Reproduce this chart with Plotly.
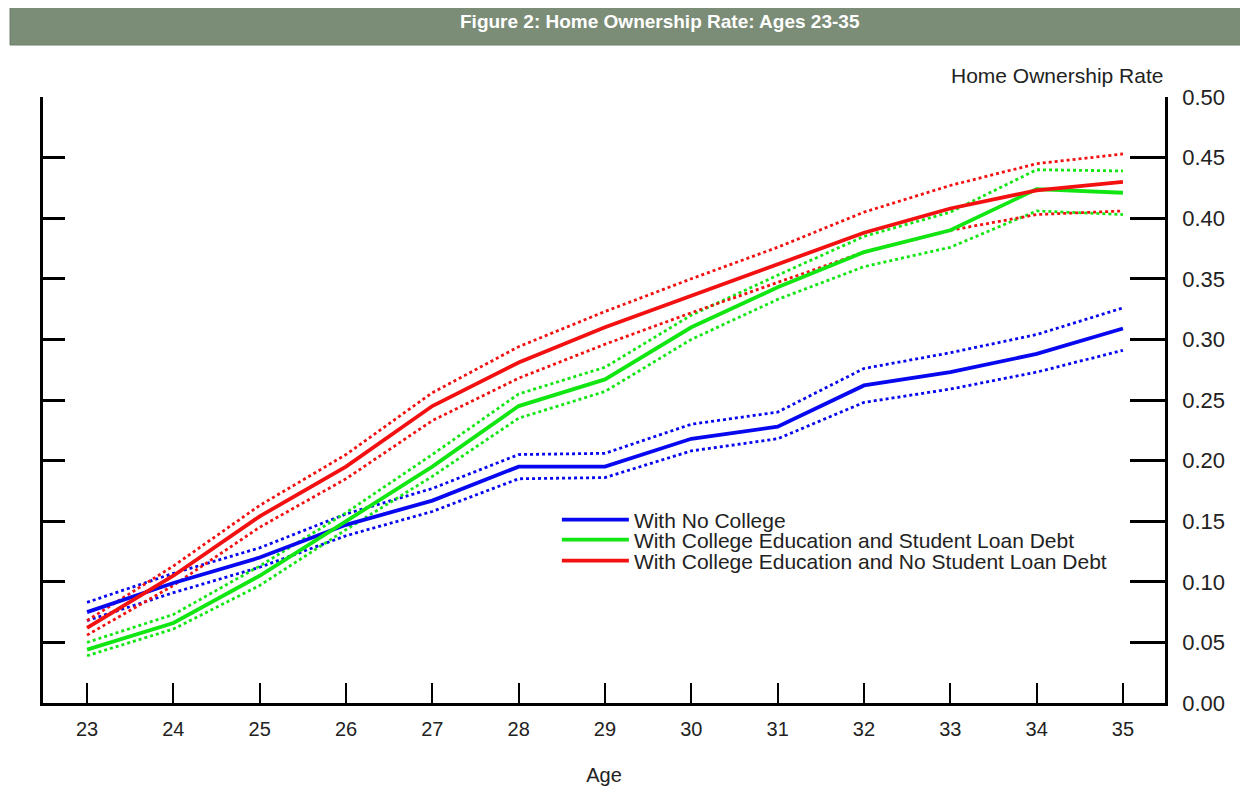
import plotly.graph_objects as go

ages = [23, 24, 25, 26, 27, 28, 29, 30, 31, 32, 33, 34, 35]

no_college = [0.075, 0.099, 0.120, 0.147, 0.167, 0.195, 0.195, 0.218, 0.228, 0.262, 0.273, 0.288, 0.309]
no_college_hi = [0.083, 0.107, 0.128, 0.156, 0.177, 0.205, 0.206, 0.230, 0.240, 0.276, 0.289, 0.304, 0.326]
no_college_lo = [0.068, 0.091, 0.112, 0.138, 0.158, 0.185, 0.186, 0.208, 0.218, 0.248, 0.259, 0.273, 0.291]

loan = [0.044, 0.066, 0.105, 0.150, 0.195, 0.245, 0.267, 0.310, 0.343, 0.372, 0.390, 0.424, 0.421]
loan_hi = [0.050, 0.073, 0.113, 0.157, 0.205, 0.255, 0.277, 0.320, 0.353, 0.385, 0.405, 0.440, 0.439]
loan_lo = [0.039, 0.061, 0.097, 0.143, 0.187, 0.235, 0.257, 0.300, 0.333, 0.360, 0.376, 0.406, 0.403]

no_loan = [0.062, 0.105, 0.154, 0.195, 0.245, 0.281, 0.310, 0.336, 0.362, 0.388, 0.408, 0.423, 0.430]
no_loan_hi = [0.068, 0.113, 0.163, 0.205, 0.256, 0.294, 0.323, 0.350, 0.376, 0.405, 0.427, 0.445, 0.453]
no_loan_lo = [0.056, 0.097, 0.145, 0.185, 0.233, 0.268, 0.296, 0.322, 0.347, 0.372, 0.390, 0.403, 0.406]

y_ticks = [0.00, 0.05, 0.10, 0.15, 0.20, 0.25, 0.30, 0.35, 0.40, 0.45, 0.50]
x_ticks = ages

title = "Figure 2: Home Ownership Rate: Ages 23-35"
names = ["With No College",
         "With College Education and Student Loan Debt",
         "With College Education and No Student Loan Debt"]
colors = ["#0808f0", "#12e612", "#f21010"]
legend_ids = ["legend", "legend2", "legend3"]

series = [
    (no_college, no_college_hi, no_college_lo),
    (loan, loan_hi, loan_lo),
    (no_loan, no_loan_hi, no_loan_lo),
]

fig = go.Figure()

# dotted bands first
for (mid, hi, lo), c in zip(series, colors):
    for band in (hi, lo):
        fig.add_trace(go.Scatter(x=ages, y=band, mode="lines",
                                 line=dict(color=c, width=2.8, dash="dot"),
                                 showlegend=False, hoverinfo="skip"))

for (mid, hi, lo), c, n, lg in zip(series, colors, names, legend_ids):
    fig.add_trace(go.Scatter(x=ages, y=mid, mode="lines", name=n, legend=lg,
                             line=dict(color=c, width=3.8)))

# secondary (left) axis for the left-hand ticks
fig.add_trace(go.Scatter(x=[ages[0]], y=[y_ticks[0]], yaxis="y2", mode="markers",
                         marker=dict(opacity=0), showlegend=False, hoverinfo="skip"))

sans = "Liberation Sans, Arial, sans-serif"
ytick_font = dict(family=sans, size=22, color="#222222")
xtick_font = dict(family=sans, size=20, color="#222222")
legend_font = dict(family=sans, size=21, color="#222222")

legend_common = dict(x=0.458, xanchor="left", yanchor="middle",
                     bgcolor="rgba(0,0,0,0)", font=legend_font, itemwidth=67)

fig.update_layout(
    width=1240, height=785,
    paper_bgcolor="white", plot_bgcolor="white",
    margin=dict(l=35, r=83, t=89, b=90, autoexpand=False),
    xaxis=dict(range=[22.49, 35.487], tickvals=x_ticks, ticktext=[str(a) for a in x_ticks],
               ticks="inside", ticklen=20, tickwidth=2, tickcolor="black",
               showline=True, linewidth=2.5, linecolor="black", showgrid=False,
               zeroline=False, tickfont=xtick_font, ticklabelstandoff=6,
               title=dict(text="Age", font=xtick_font, standoff=30)),
    yaxis=dict(range=[0, 0.5], side="right", tickvals=y_ticks,
               ticktext=[f"{v:.2f}" for v in y_ticks],
               ticks="inside", ticklen=35, tickwidth=2.5, tickcolor="black",
               showline=True, linewidth=2.5, linecolor="black", showgrid=False,
               zeroline=False, tickfont=ytick_font, ticklabelstandoff=10),
    yaxis2=dict(range=[0, 0.5], side="left", overlaying="y", tickvals=y_ticks,
                ticks="inside", ticklen=22, tickwidth=2.5, tickcolor="black",
                showticklabels=False, showline=True, linewidth=2.5, linecolor="black",
                showgrid=False, zeroline=False),
    legend=dict(y=0.302, **legend_common),
    legend2=dict(y=0.269, **legend_common),
    legend3=dict(y=0.2343, **legend_common),
    shapes=[dict(type="rect", xref="paper", yref="paper",
                 x0=-0.0294, x1=1.08, y0=1.0858, y1=1.16,
                 fillcolor="#7b8c77", line=dict(width=1, color="#6f7f6b"), layer="below")],
    annotations=[
        dict(text=f"<b>{title}</b>", xref="paper", yref="paper", x=0.55, y=1.146,
             xanchor="center", yanchor="top", showarrow=False,
             font=dict(family=sans, size=19, color="white")),
        dict(text="Home Ownership Rate", xref="paper", yref="paper", x=1.0, y=1.036,
             xanchor="right", yanchor="middle", showarrow=False,
             font=dict(family=sans, size=21, color="#222222")),
    ],
)

fig.write_html("out.html")
